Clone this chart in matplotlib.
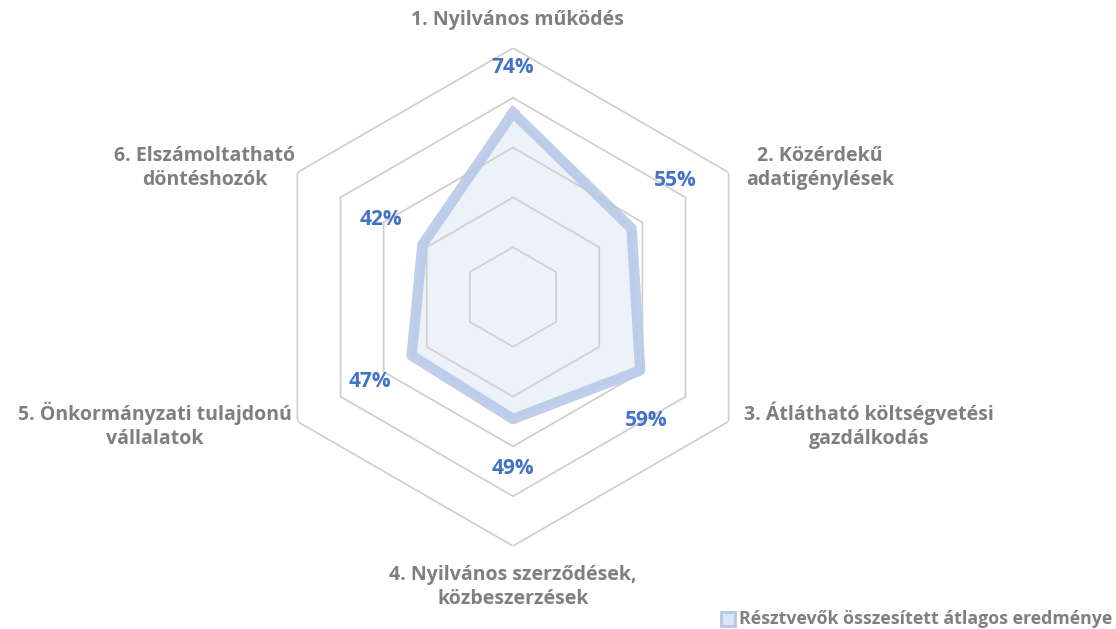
import numpy as np
import matplotlib.pyplot as plt
from matplotlib.lines import Line2D

plt.rcParams['font.family'] = ['Open Sans', 'DejaVu Sans']

# Data
categories = ['1. Nyilvános működés',
              '2. Közérdekű\nadatigénylések',
              '3. Átlátható költségvetési\ngazdálkodás',
              '4. Nyilvános szerződések,\nközbeszerzések',
              '5. Önkormányzati tulajdonú\nvállalatok',
              '6. Elszámoltatható\ndöntéshozók']
values = [0.74, 0.55, 0.59, 0.49, 0.47, 0.42]
value_labels = ['74%', '55%', '59%', '49%', '47%', '42%']
grid_levels = [0.2, 0.4, 0.6, 0.8, 1.0]
series_name = 'Résztvevők összesített átlagos eredménye'

grey = '#7F7F7F'
blue = '#4472C4'
line_col = '#B4C7E7'

fig = plt.figure(figsize=(11.16, 6.29), dpi=100)
ax = fig.add_axes([264 / 1116, 83 / 629, 498 / 1116, 498 / 629], projection='polar')
ax.set_theta_offset(np.pi / 2)
ax.set_theta_direction(-1)
ax.set_ylim(0, 1)
ax.set_xticks([])
ax.set_yticks([])
ax.grid(False)
ax.spines['polar'].set_visible(False)
ax.patch.set_alpha(0)

n = len(categories)
theta = np.linspace(0, 2 * np.pi, n, endpoint=False)
theta_c = np.append(theta, theta[0])

# hexagon grid
for lv in grid_levels:
    ax.plot(theta_c, [lv] * (n + 1), color='#D0D0D0', lw=1.3, zorder=3)

vals_c = np.append(values, values[0])
ax.fill(theta_c, vals_c, color='#EDF2FA', zorder=2)
ax.plot(theta_c, vals_c, color=line_col, lw=7.5, alpha=0.85, solid_joinstyle='round', zorder=4)

# value labels (pixel offsets from data points)
offsets = [(0, 45), (44, 48), (6, -50), (0, -49), (-42, -26), (-41, 25)]
for t, v, lab, off in zip(theta, values, value_labels, offsets):
    ax.annotate(lab, (t, v), xytext=off, textcoords='offset pixels',
                ha='center', va='center', color=blue, fontsize=15,
                fontweight='bold', zorder=5)

# category labels (figure pixel positions)
cat_pos = [(517, 20), (820, 168), (869, 425), (513, 587), (155, 425), (205, 168)]
for lab, (px, py) in zip(categories, cat_pos):
    fig.text(px / 1116, 1 - py / 629, lab, ha='center', va='center',
             color=grey, fontsize=14, fontweight='bold', linespacing=1.25)

handle = Line2D([], [], marker='s', linestyle='none', markersize=10,
                markerfacecolor='#DCE6F5', markeredgecolor=line_col, markeredgewidth=2)
leg = fig.legend([handle], [series_name], loc='center left',
                 bbox_to_anchor=(720 / 1116, 1 - 619 / 629), frameon=False,
                 handletextpad=0.2, borderaxespad=0, borderpad=0, handlelength=1.2)
for txt in leg.get_texts():
    txt.set_color(grey)
    txt.set_fontweight('bold')
    txt.set_fontsize(12.8)

fig.savefig('out.png', dpi=100)
